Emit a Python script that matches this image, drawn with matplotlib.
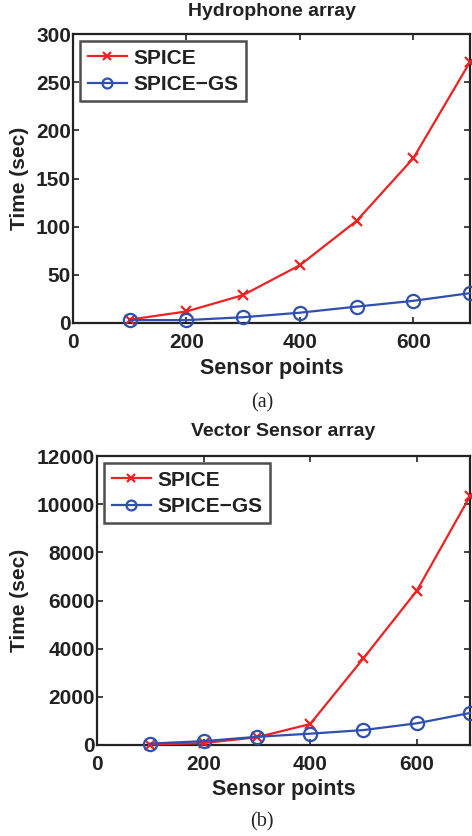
import matplotlib
matplotlib.use("Agg")
import matplotlib.pyplot as plt

sensor_points = [100, 200, 300, 400, 500, 600, 700]
hydro_spice = [3.5, 12, 29, 60, 106, 171, 271]
hydro_spice_gs = [3, 3, 6, 10.7, 17, 23, 31]
vector_spice = [20, 80, 320, 870, 3600, 6400, 10330]
vector_spice_gs = [60, 160, 340, 470, 620, 900, 1330]
series_names = ["SPICE", "SPICE\u2212GS"]
titles = ["Hydrophone array", "Vector Sensor array"]
captions = ["(a)", "(b)"]
x_ticks = [0, 200, 400, 600]
y_ticks_a = [0, 50, 100, 150, 200, 250, 300]
y_ticks_b = [0, 2000, 4000, 6000, 8000, 10000, 12000]

plt.rcParams['font.family'] = ['Liberation Sans', 'DejaVu Sans']
plt.rcParams['font.weight'] = 'bold'

W, H = 472, 836
fig = plt.figure(figsize=(W / 100, H / 100), dpi=100)

red = '#ee2222'
blue = '#3050b0'
ink = '#222222'

def px_axes(l, t, r, b):
    return fig.add_axes([l / W, 1 - b / H, (r - l) / W, (b - t) / H])

panels = [
    (px_axes(73, 34, 470, 323), hydro_spice, hydro_spice_gs, y_ticks_a, 300, 12, 368, 403, 20),
    (px_axes(97, 456, 470, 745), vector_spice, vector_spice_gs, y_ticks_b, 12000, 432, 789, 822, 20),
]

FS = 15
for i, (ax, s1, s2, yt, ymax, tt_y, xl_y, cap_y, yl_x) in enumerate(panels):
    ax.plot(sensor_points, s1, color=red, marker='x', markersize=7.5, markeredgewidth=1.6,
            linewidth=1.6, label=series_names[0], clip_on=False, zorder=3)
    ax.plot(sensor_points, s2, color=blue, marker='o', markersize=9.5, markerfacecolor='none',
            markeredgewidth=1.6, linewidth=1.6, label=series_names[1], clip_on=False, zorder=3)
    ax.set_xlim(0, 700)
    ax.set_ylim(0, ymax)
    ax.set_xticks(x_ticks)
    ax.set_yticks(yt)
    ax.tick_params(direction='in', top=True, right=True, length=4, width=1.2,
                   labelsize=FS, colors=ink)
    ax.tick_params(axis='x', pad=7)
    ax.tick_params(axis='y', pad=1.5)
    for lab in ax.get_xticklabels() + ax.get_yticklabels():
        lab.set_fontweight('bold')
    for sp in ax.spines.values():
        sp.set_linewidth(1.6)
        sp.set_color(ink)
    pos = ax.get_position()
    cx = (pos.x0 + pos.x1) / 2
    fig.text(cx, 1 - tt_y / H, titles[i], ha='center', va='center',
             fontsize=14, fontweight='bold', color=ink)
    fig.text(yl_x / W, (pos.y0 + pos.y1) / 2, "Time (sec)", ha='center', va='center',
             rotation=90, fontsize=FS, fontweight='bold', color=ink)
    fig.text(cx, 1 - xl_y / H, "Sensor points", ha='center', va='center',
             fontsize=15.5, fontweight='bold', color=ink)
    fig.text(262 / W, 1 - cap_y / H, captions[i], ha='center', va='center',
             fontsize=14.5, fontweight='normal', family=['Liberation Serif', 'DejaVu Serif'],
             color=ink)
    leg = ax.legend(loc='upper left', fontsize=FS, frameon=True, fancybox=False,
                    borderaxespad=0.35, handlelength=1.9, handletextpad=0.3,
                    borderpad=0.35, labelspacing=0.35, markerscale=0.75)
    leg.get_frame().set_edgecolor(ink)
    leg.get_frame().set_linewidth(1.8)
    for t in leg.get_texts():
        t.set_fontweight('bold')
        t.set_color(ink)

fig.savefig("out.png", dpi=100)
